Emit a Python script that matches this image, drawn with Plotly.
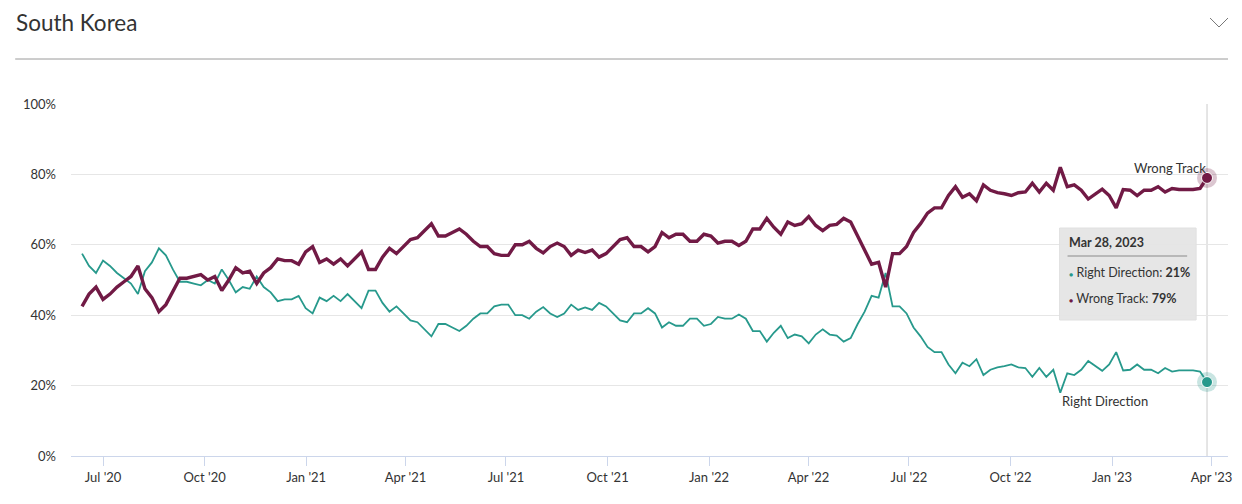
import pandas as pd
import plotly.graph_objects as go

# ---- data (roughly every ~6.3 days) ----
start_date = "2020-06-12"
end_date = "2023-03-28"

wrong_track = [
    42.5, 46, 48, 44.5, 46, 48, 49.5, 51, 54, 47.5, 45, 41, 43, 47, 50.5, 50.5, 51, 51.5, 50, 51,
    47, 50, 53.5, 52, 52.5, 49, 52, 53.5, 56, 55.5, 55.5, 54.5, 58, 59.5, 55, 56, 54.5, 56, 54, 56,
    58, 53, 53, 56.5, 59, 57.5, 59.5, 61.5, 62, 64, 66, 62.5, 62.5, 63.5, 64.5, 63, 61, 59.5, 59.5, 57.5,
    57, 57, 60, 60, 61, 59, 57.7, 59.5, 60.5, 59.5, 57, 58.5, 57.8, 58.5, 56.5, 57.5, 59.5, 61.5, 62, 59.5,
    59.5, 58, 59.5, 63.5, 62, 63, 63, 61, 61, 63, 62.5, 60.5, 61, 61, 59.8, 61, 64.5, 64.5, 67.5, 65,
    63, 66.5, 65.5, 66, 68, 65.5, 64, 65.5, 65.8, 67.5, 66.5, 62.5, 59, 54.5, 55, 48, 57.5, 57.5, 59.5, 63.5,
    66, 69, 70.5, 70.5, 74, 76.5, 73.5, 74.5, 72.5, 77, 75.5, 74.8, 74.5, 74, 74.8, 75, 77.5, 75, 77.5, 75.5,
    82, 76.5, 77, 75.5, 73, 74.3, 75.8, 74, 70.5, 75.7, 75.5, 74, 75.5, 75.5, 76.5, 75, 76, 75.7, 75.7, 75.7, 76, 79,
]

right_direction = [
    57.5, 54, 52, 55.5, 54, 52, 50.5, 49, 46, 52.5, 55, 59, 57, 53, 49.5, 49.5, 49, 48.5, 50, 49,
    53, 50, 46.5, 48, 47.5, 51, 48, 46.5, 44, 44.5, 44.5, 45.5, 42, 40.5, 45, 44, 45.5, 44, 46, 44,
    42, 47, 47, 43.5, 41, 42.5, 40.5, 38.5, 38, 36, 34, 37.5, 37.5, 36.5, 35.5, 37, 39, 40.5, 40.5, 42.5,
    43, 43, 40, 40, 39, 41, 42.3, 40.5, 39.5, 40.5, 43, 41.5, 42.2, 41.5, 43.5, 42.5, 40.5, 38.5, 38, 40.5,
    40.5, 42, 40.5, 36.5, 38, 37, 37, 39, 39, 37, 37.5, 39.5, 39, 39, 40.2, 39, 35.5, 35.5, 32.5, 35,
    37, 33.5, 34.5, 34, 32, 34.5, 36, 34.5, 34.2, 32.5, 33.5, 37.5, 41, 45.5, 45, 52, 42.5, 42.5, 40.5, 36.5,
    34, 31, 29.5, 29.5, 26, 23.5, 26.5, 25.5, 27.5, 23, 24.5, 25.2, 25.5, 26, 25.2, 25, 22.5, 25, 22.5, 24.5,
    18, 23.5, 23, 24.5, 27, 25.7, 24.2, 26, 29.5, 24.3, 24.5, 26, 24.5, 24.5, 23.5, 25, 24, 24.3, 24.3, 24.3, 24, 21,
]

dates = pd.date_range(start_date, end_date, periods=len(wrong_track))

series_names = ["Right Direction", "Wrong Track"]
y_tick_values = [0, 20, 40, 60, 80, 100]
y_tick_labels = ["0%", "20%", "40%", "60%", "80%", "100%"]
tooltip_date = "Mar 28, 2023"
tooltip_values = [21, 79]
trough_date = "2022-11-14"
trough_value = 17.5

# ---- styling ----
WRONG = "#711a45"
RIGHT = "#27998c"
FONT = "Lato"
W, H = 1242, 504
L, R, T, B = 71, 1232, 104, 456


def px(x):
    return (x - L) / (R - L)


def py(y):
    return (B - y) / (B - T)


fig = go.Figure()
fig.add_trace(go.Scatter(x=dates, y=right_direction, mode="lines", name=series_names[0],
                         line=dict(color=RIGHT, width=1.8), hoverinfo="skip"))
fig.add_trace(go.Scatter(x=dates, y=wrong_track, mode="lines", name=series_names[1],
                         line=dict(color=WRONG, width=3.4), hoverinfo="skip"))

last = dates[-1]
fig.add_trace(go.Scatter(x=[last, last], y=[right_direction[-1], wrong_track[-1]], mode="markers",
                         marker=dict(size=20, color=["rgba(39,153,140,0.25)", "rgba(113,26,69,0.25)"],
                                     line=dict(width=0)), hoverinfo="skip"))
fig.add_trace(go.Scatter(x=[last, last], y=[right_direction[-1], wrong_track[-1]], mode="markers",
                         marker=dict(size=11, color=[RIGHT, WRONG], line=dict(width=1, color="white")),
                         hoverinfo="skip"))

shapes = []
shapes.append(dict(type="line", xref="x", yref="paper", x0=last, x1=last, y0=0, y1=1,
                   line=dict(color="#cccccc", width=1), layer="below"))
shapes.append(dict(type="line", xref="paper", yref="paper", x0=px(15), x1=px(1232), y0=py(59), y1=py(59),
                   line=dict(color="#9a9a9a", width=1)))
shapes.append(dict(type="path", xref="paper", yref="paper",
                   path=f"M {px(1214)},{py(18)} L {px(1223)},{py(27)} L {px(1232)},{py(18)}",
                   line=dict(color="#777777", width=1)))
shapes.append(dict(type="rect", xref="paper", yref="paper", x0=px(1063), x1=px(1200), y0=py(320), y1=py(228),
                   fillcolor="rgba(229,229,229,0.95)", line=dict(color="#e0e0e0", width=1)))
shapes.append(dict(type="line", xref="paper", yref="paper", x0=px(1071), x1=px(1191), y0=py(256), y1=py(256),
                   line=dict(color="#8a8a8a", width=1)))

annotations = [
    dict(text="South Korea", xref="paper", yref="paper", x=px(14), y=py(22), xanchor="left", yanchor="middle",
         showarrow=False, font=dict(family=FONT, size=22.5, color="#333333")),
    dict(text=series_names[1], xref="x", yref="y", x=last, y=wrong_track[-1], xanchor="right", yanchor="bottom",
         xshift=1, yshift=0, showarrow=False, font=dict(family=FONT, size=13, color="#333333")),
    dict(text=series_names[0], xref="x", yref="y", x=trough_date, y=trough_value, xanchor="left", yanchor="top",
         xshift=1, yshift=3, showarrow=False, font=dict(family=FONT, size=13, color="#333333")),
    dict(text=f"<b>{tooltip_date}</b>", xref="paper", yref="paper", x=px(1070), y=py(242), xanchor="left",
         yanchor="middle", showarrow=False, font=dict(family=FONT, size=12.5, color="#333333")),
    dict(text=f"<span style='color:{RIGHT};font-size:7px'>●</span> {series_names[0]}: <b>{tooltip_values[0]}%</b>",
         xref="paper", yref="paper", x=px(1070), y=py(272), xanchor="left", yanchor="middle", showarrow=False,
         font=dict(family=FONT, size=12.5, color="#333333")),
    dict(text=f"<span style='color:{WRONG};font-size:7px'>●</span> {series_names[1]}: <b>{tooltip_values[1]}%</b>",
         xref="paper", yref="paper", x=px(1070), y=py(298), xanchor="left", yanchor="middle", showarrow=False,
         font=dict(family=FONT, size=12.5, color="#333333")),
]

fig.update_layout(
    width=W, height=H,
    margin=dict(l=L, r=W - R, t=T, b=H - B, pad=0),
    plot_bgcolor="white", paper_bgcolor="white",
    showlegend=False,
    font=dict(family=FONT, size=13, color="#333333"),
    shapes=shapes, annotations=annotations,
    hovermode=False,
)
fig.update_xaxes(
    range=["2020-06-02", "2023-04-16"],
    tick0="2020-07-01", dtick="M3", tickformat="%b '%y",
    showgrid=False, zeroline=False,
    showline=True, linecolor="#ccd6eb", linewidth=1,
    ticks="outside", ticklen=9, tickcolor="#ccd6eb", tickwidth=1,
    tickfont=dict(family=FONT, size=13, color="#333333"),
)
fig.update_yaxes(
    range=[0, 100], tickmode="array", tickvals=y_tick_values, ticktext=y_tick_labels,
    showgrid=True, gridcolor="#e6e6e6", gridwidth=1, zeroline=False, showline=False,
    ticks="", ticklabelstandoff=14,
    tickfont=dict(family=FONT, size=13, color="#333333"),
)

fig.write_html("out.html", config={"displayModeBar": False},
               post_script="document.body.style.margin='0';document.body.style.padding='0';")
